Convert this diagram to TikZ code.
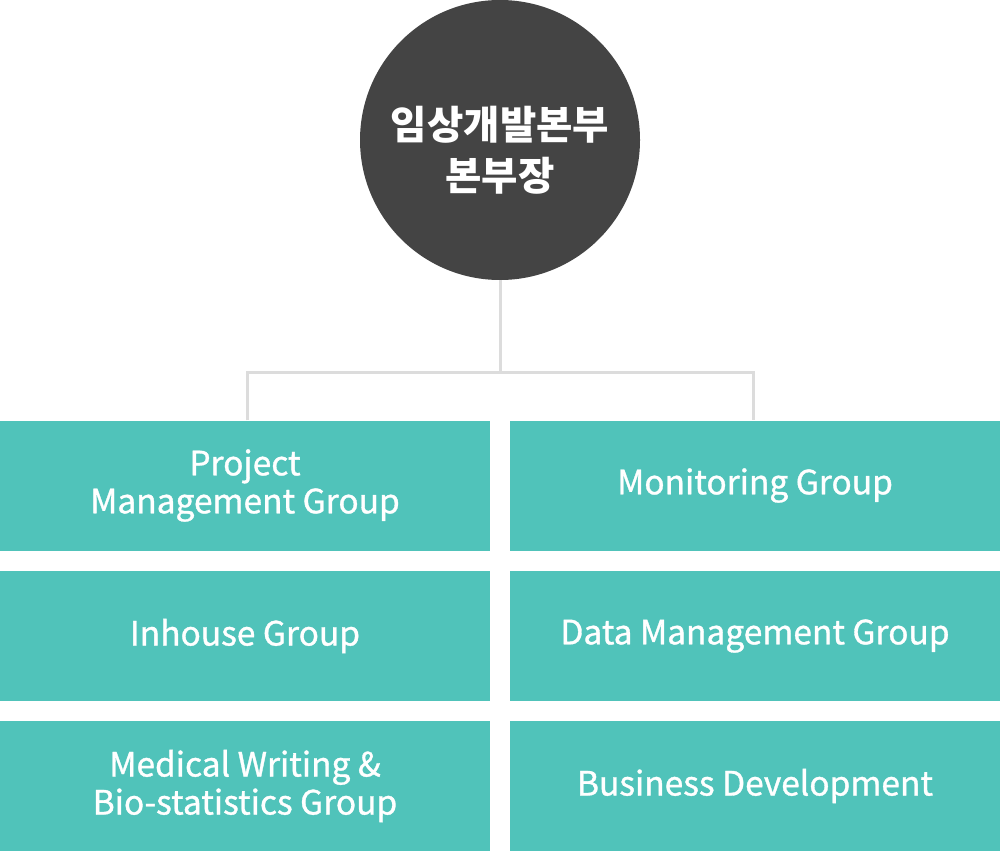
\documentclass[tikz,border=0pt]{standalone}
\usepackage{fontspec}
\setmainfont{Noto Sans CJK KR}
\newfontfamily\grpfont{Noto Sans CJK KR}[FakeBold=1]
\definecolor{groupteal}{HTML}{50C3BA}
\definecolor{headgray}{HTML}{444444}
\definecolor{linegray}{HTML}{DCDCDC}
\begin{document}
\begin{tikzpicture}[x=1pt,y=1pt,
    grp/.style={fill=groupteal, minimum width=490pt, minimum height=130pt, inner sep=0pt,
      text=white, align=center, font=\grpfont\fontsize{33.5}{38}\selectfont},
    head/.style={circle, fill=headgray, minimum size=280pt, inner sep=0pt},
    headtext/.style={text=white, align=center, yshift=-10pt, font=\bfseries\fontsize{39.5}{51}\selectfont},
    link/.style={draw=linegray, line width=3pt}]
      \useasboundingbox (0,0) rectangle (1000,-851);
      \node[head, label={[headtext]center:임상개발본부\\본부장}](H) at (500,-140){};
      \foreach \x/\y/\t/\i in {245/-485.5/{Project\\Management Group}/pm,
                               755/-485.5/{Monitoring Group}/mo,
                               245/-636/{Inhouse Group}/ih,
                               755/-636/{Data Management Group}/dm,
                               245/-786/{Medical Writing \&\\Bio-statistics Group}/mw,
                               755/-786/{Business Development}/bd}{
        \node[grp](G\i) at (\x,\y){\t};
      }
      \coordinate(J) at (500,-372);
      \draw[link](H.south)--(J);
      \draw[link]([xshift=2pt]Gpm.north) |- (J) -| ([xshift=-2pt]Gmo.north);
    \end{tikzpicture}
\end{document}
